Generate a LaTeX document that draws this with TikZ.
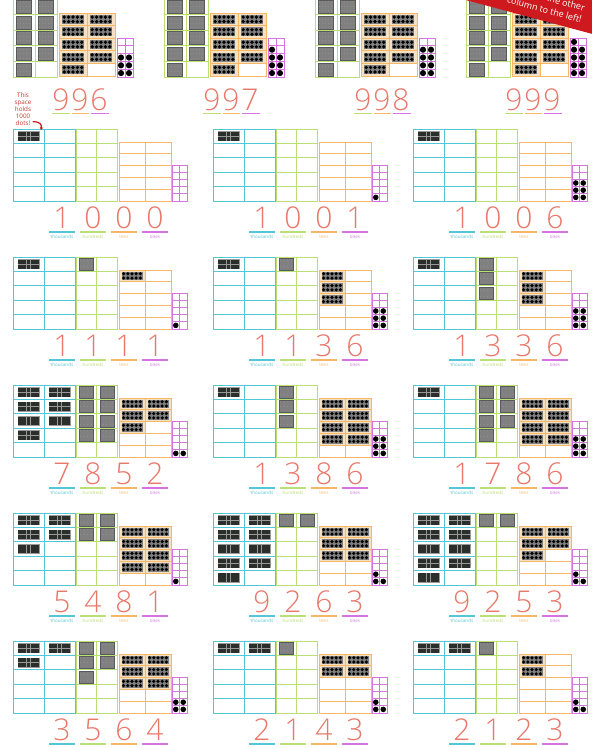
\documentclass[tikz,border=0pt]{standalone}
\usepackage{fontspec}
\setmainfont{Open Sans}
\newfontfamily\digfont{Open Sans Light}
\usetikzlibrary{arrows.meta}
\definecolor{cthou}{HTML}{55C6D5}
\definecolor{chun}{HTML}{BADF74}
\definecolor{cten}{HTML}{F5B765}
\definecolor{cone}{HTML}{D773E0}
\definecolor{cdig}{HTML}{E8786A}
\definecolor{ctan}{HTML}{F6E0C2}
\definecolor{cban}{HTML}{CE1A1F}
\definecolor{cnote}{HTML}{C83A34}
\definecolor{chgray}{HTML}{8E8E8E}
\definecolor{ctile}{HTML}{2A2F2B}
\tikzset{
  gl/.style={line width=0.9pt},
  digit/.style={font=\digfont\fontsize{30}{30}\selectfont, text=cdig, inner sep=0pt, anchor=base},
  lbl/.style={font=\fontsize{4.6}{5}\selectfont, inner sep=0pt, anchor=base},
  uline/.style={line width=1.1pt},
  bantext/.style={font=\fontsize{9}{12}\selectfont, text=white, inner sep=0pt, transform shape},
}
\newcommand\ThouBlk[2]{%
  \begin{scope}[shift={(#1,#2)}]
    \fill[black!40] (-11,-5) rectangle (11,5);
    \foreach \i in {0,...,4}{\foreach \j in {0,1}{%
      \fill[ctile] (-10.4+\i*4.28,-4.4+\j*4.7) rectangle ++(3.68,4.1);}}
  \end{scope}}
\newcommand\HunBlk[4]{%
  \begin{scope}[shift={(#1,#2)}]
    \fill[chgray] (-#3/2,-#4/2) rectangle (#3/2,#4/2);
    \foreach \i in {1,...,9}{%
      \draw[line width=0.18pt,black!50] (-#3/2+\i*#3/10,-#4/2) -- ++(0,#4);
      \draw[line width=0.18pt,black!50] (-#3/2,-#4/2+\i*#4/10) -- ++(#3,0);}
    \draw[line width=0.4pt,black!65] (-#3/2,-#4/2) rectangle (#3/2,#4/2);
  \end{scope}}
\newcommand\TenBlk[4]{%
  \begin{scope}[shift={(#1,#2)}]
    \fill[black!50] (-#3/2,-#4/2) rectangle (#3/2,#4/2);
    \foreach \i in {0,...,4}{\foreach \j in {0,1}{%
      \fill[black] (-#3/2+\i*#3/5+#3/10,-#4/2+\j*#4/2+#4/4) circle (0.42*#3/5);}}
  \end{scope}}
% type B panel: x0 y0 thousands hundreds tens ones {hundreds cells r/c} {tens cells r/c}
\newcommand\PanelB[8]{%
\begin{scope}[shift={(#1,#2)}]
  \ifnum#5>0 \foreach \rr/\cc in {#8}{%
     \fill[ctan] (106.5+\cc*26,13.5+\rr*11.8) rectangle ++(25,10.8);}\fi
  \draw[gl,cthou] (0,0) rectangle (62,72) (31,0) -- (31,72);
  \foreach \i in {1,...,4}{\draw[gl,cthou] (0,\i*14.4) -- (62,\i*14.4);}
  \draw[gl,chun] (63,0) rectangle (104,72) (83.5,0) -- (83.5,72);
  \foreach \i in {1,...,4}{\draw[gl,chun] (63,\i*14.4) -- (104,\i*14.4);}
  \draw[gl,cten] (106,13) rectangle (158,72) (132,13) -- (132,72);
  \foreach \i in {1,...,4}{\draw[gl,cten] (106,13+\i*11.8) -- (158,13+\i*11.8);}
  \draw[gl,cone] (159,36) rectangle (174,72) (166.5,36) -- (166.5,72);
  \foreach \i in {1,...,4}{\draw[gl,cone] (159,36+\i*7.2) -- (174,36+\i*7.2);}
  \ifnum#3>0 \foreach \k in {1,...,#3}{\pgfmathtruncatemacro\rr{(\k-1)/2}\pgfmathtruncatemacro\cc{mod(\k-1,2)}%
     \ThouBlk{15.5+\cc*31}{7.2+\rr*14.4}}\fi
  \ifnum#4>0 \foreach \rr/\cc in {#7}{%
     \HunBlk{73.25+\cc*20.5}{7.2+\rr*14.4}{14}{12}}\fi
  \ifnum#5>0 \foreach \rr/\cc in {#8}{%
     \TenBlk{119+\cc*26}{18.9+\rr*11.8}{21}{8.5}}\fi
  \ifnum#6>0 \foreach \k in {1,...,#6}{\pgfmathtruncatemacro\rr{(\k-1)/2}\pgfmathtruncatemacro\cc{mod(\k-1,2)}%
     \fill[black] (162.75+\cc*7.5,68.4-\rr*7.2) circle (2.8);}\fi
  \node[digit] (B#1-#2-t) at (49,99) {#3};
  \node[digit] (B#1-#2-h) at (80,99) {#4};
  \node[digit] (B#1-#2-e) at (111,99) {#5};
  \node[digit] (B#1-#2-o) at (142,99) {#6};
  \draw[uline,cthou] (36,103) -- (62,103);
  \draw[uline,chun] (67,103) -- (93,103);
  \draw[uline,cten] (98,103) -- (124,103);
  \draw[uline,cone] (129,103) -- (155,103);
  \ifnum#2<600
  \node[lbl,text=cthou] (B#1-#2-lt) at (49,109) {thousands};
  \node[lbl,text=chun] (B#1-#2-lh) at (80,109) {hundreds};
  \node[lbl,text=cten] (B#1-#2-le) at (111,109) {tens};
  \node[lbl,text=cone] (B#1-#2-lo) at (142,109) {ones};
  \fi
\end{scope}}
% type A panel: x0 hundreds tens ones
\newcommand\PanelA[4]{%
\begin{scope}[shift={(#1,0)}]
  \ifnum#3>0 \foreach \k in {1,...,#3}{\pgfmathtruncatemacro\rr{(\k-1)/2}\pgfmathtruncatemacro\cc{mod(\k-1,2)}%
     \fill[ctan] (46.5+\cc*28,13.5+\rr*12.6) rectangle ++(27,11.6);}\fi
  \draw[gl,chun] (0,-1) rectangle (44,77) (22,-1) -- (22,77);
  \foreach \i in {1,...,4}{\draw[gl,chun] (0,-1+\i*15.6) -- (44,-1+\i*15.6);}
  \draw[gl,cten] (46,13) rectangle (102,76) (74,13) -- (74,76);
  \foreach \i in {1,...,4}{\draw[gl,cten] (46,13+\i*12.6) -- (102,13+\i*12.6);}
  \draw[gl,cone] (104,38) rectangle (120,77) (112,38) -- (112,77);
  \foreach \i in {1,...,4}{\draw[gl,cone] (104,38+\i*7.8) -- (120,38+\i*7.8);}
  \ifnum#2>0 \foreach \k in {1,...,#2}{\pgfmathtruncatemacro\rr{(\k-1)/2}\pgfmathtruncatemacro\cc{mod(\k-1,2)}%
     \HunBlk{11+\cc*22}{6.8+\rr*15.6}{15}{13}}\fi
  \ifnum#3>0 \foreach \k in {1,...,#3}{\pgfmathtruncatemacro\rr{(\k-1)/2}\pgfmathtruncatemacro\cc{mod(\k-1,2)}%
     \TenBlk{60+\cc*28}{19.3+\rr*12.6}{22}{9}}\fi
  \ifnum#4>0 \foreach \k in {1,...,#4}{\pgfmathtruncatemacro\rr{(\k-1)/2}\pgfmathtruncatemacro\cc{mod(\k-1,2)}%
     \fill[black] (108+\cc*8,73.1-\rr*7.8) circle (3.1);}\fi
  \node[digit] (A#1-h) at (48,110) {#2};
  \node[digit] (A#1-e) at (67,110) {#3};
  \node[digit] (A#1-o) at (86,110) {#4};
  \draw[uline,chun] (39,113.5) -- (57,113.5);
  \draw[uline,cten] (59,113.5) -- (76,113.5);
  \draw[uline,cone] (78,113.5) -- (96,113.5);
\end{scope}}

\begin{document}
\begin{tikzpicture}[x=1pt,y=-1pt]
\useasboundingbox (0,0) rectangle (592,748);
\fill[white] (0,0) rectangle (592,748);
\clip (0,0) rectangle (592,748);
% top row
\PanelA{13}{9}{9}{6}
\PanelA{164}{9}{9}{7}
\PanelA{315}{9}{9}{8}
\PanelA{466}{9}{9}{9}
% lower rows
\PanelB{13}{129}{1}{0}{0}{0}{}{}
\PanelB{213}{129}{1}{0}{0}{1}{}{}
\PanelB{413}{129}{1}{0}{0}{6}{}{}
\PanelB{13}{257}{1}{1}{1}{1}{0/0}{0/0}
\PanelB{213}{257}{1}{1}{3}{6}{0/0}{0/0,1/0,2/0}
\PanelB{413}{257}{1}{3}{3}{6}{0/0,1/0,2/0}{0/0,1/0,2/0}
\PanelB{13}{385}{7}{8}{5}{2}{0/0,0/1,1/0,1/1,2/0,2/1,3/0,3/1}{0/0,0/1,1/0,1/1,2/0}
\PanelB{213}{385}{1}{3}{8}{6}{0/0,1/0,2/0}{0/0,0/1,1/0,1/1,2/0,2/1,3/0,3/1}
\PanelB{413}{385}{1}{7}{8}{6}{0/0,0/1,1/0,1/1,2/0,2/1,3/0}{0/0,0/1,1/0,1/1,2/0,2/1,3/0,3/1}
\PanelB{13}{513}{5}{4}{8}{1}{0/0,0/1,1/0,1/1}{0/0,0/1,1/0,1/1,2/0,2/1,3/0,3/1}
\PanelB{213}{513}{9}{2}{6}{3}{0/0,0/1}{0/0,0/1,1/0,1/1,2/0,2/1}
\PanelB{413}{513}{9}{2}{5}{3}{0/0,0/1}{0/0,0/1,1/0,1/1,2/0}
\PanelB{13}{641}{3}{5}{6}{4}{0/0,0/1,1/0,1/1,2/0}{0/0,0/1,1/0,1/1,2/0,2/1}
\PanelB{213}{641}{2}{1}{4}{3}{0/0}{0/0,0/1,1/0,1/1}
\PanelB{413}{641}{2}{1}{2}{3}{0/0}{0/0,1/0}
% banner
\begin{scope}[shift={(584,11)}, rotate=-15]
  \fill[cban] (-240,-40) rectangle (20,20);
  \node[bantext, align=right, anchor=north east] (ban) at (0,-7) {move them to the other\\column to the left!};
\end{scope}
% note
\node[font=\fontsize{6.3}{7}\selectfont, text=cnote, align=center, inner sep=0pt] (note) at (23,109) {This\\space\\holds\\1000\\dots!};
\coordinate (arrowend) at (41,130);
\draw[cban, line width=1.2pt, -{Stealth[length=3pt,width=3.6pt]}] ([xshift=1pt,yshift=4pt]note.south east) .. controls +(7,0) and +(1,-6) .. (arrowend);
\end{tikzpicture}
\end{document}
